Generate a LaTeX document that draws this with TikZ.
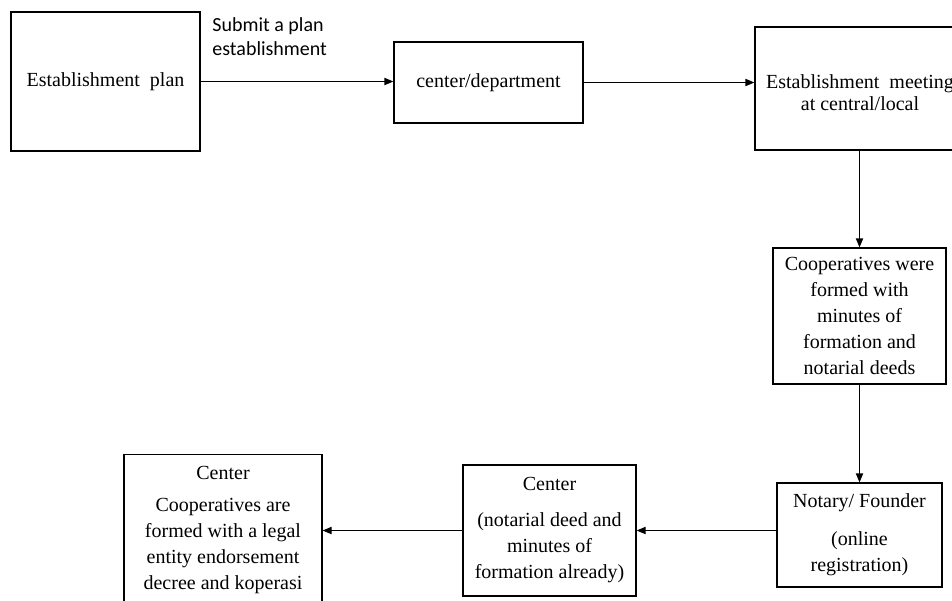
\documentclass[tikz,border=0pt]{standalone}
\usepackage{fontspec}
\setmainfont{Liberation Serif}
\newfontfamily\notefont{Carlito}
\usetikzlibrary{arrows.meta}

\begin{document}
\begin{tikzpicture}[x=0.5pt,y=-0.5pt,
    stage/.style={draw,line width=0.6pt,align=center,inner sep=0pt,
        font=\fontsize{10}{13}\selectfont},
    flow/.style={-{Triangle[length=4.5pt,width=3.6pt]},line width=0.6pt}]
    \useasboundingbox (0,0) rectangle (952,600);
    \clip (0,0) rectangle (952,600);

    % top row
    \node[stage,minimum width=94.5pt,minimum height=69.5pt](plan) at (105.5,81.5){Establishment\ \ plan};
    \node[stage,minimum width=94.5pt,minimum height=40.5pt](dept) at (488.5,82.5){center/department};
    \node[stage,minimum width=105pt,minimum height=61.5pt](meeting) at (860,88.5){\rule{0pt}{11pt}Establishment\ \ meeting\\[-2pt]at central/local};
    \node[font=\notefont\fontsize{10}{12}\selectfont,align=left,anchor=north west,inner sep=0pt](submit) at (212,17){Submit a plan\\establishment};

    % right column
    \node[stage,minimum width=86.5pt,minimum height=68pt](formed) at (859.5,316){Cooperatives were\\formed with\\minutes of\\formation and\\notarial deeds};
    \node[stage,minimum width=82.5pt,minimum height=52pt](notary) at (859.5,535){Notary/ Founder\\[6pt](online\\registration)};

    % bottom row
    \node[stage,minimum width=86.5pt,minimum height=65.5pt](deed) at (549.5,530.5){Center\\[5pt](notarial deed and\\minutes of\\formation already)};
    \node[stage,minimum width=99pt,inner ysep=6pt,anchor=north](legal) at (223,454){Center\\[3pt]Cooperatives are\\formed with a legal\\entity endorsement\\decree and koperasi};

    \draw[flow](plan.east)--(plan.east -| dept.west);
    \draw[flow](dept.east)--(dept.east -| meeting.west);
    \draw[flow](meeting.south -| formed.north)--(formed.north);
    \draw[flow](formed.south)--(notary.north);
    \draw[flow](deed.east -| notary.west)--(deed.east);
    \draw[flow](deed.west)--(deed.west -| legal.east);
\end{tikzpicture}
\end{document}
